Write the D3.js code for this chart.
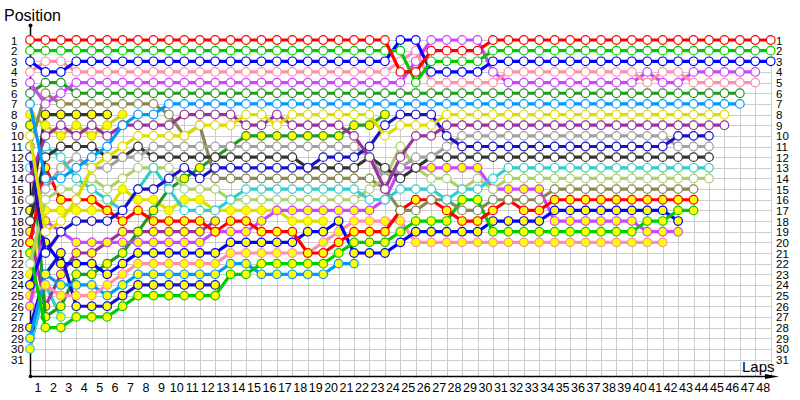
<!DOCTYPE html>
<html><head><meta charset="utf-8">
<script src="https://cdn.jsdelivr.net/npm/d3@7/dist/d3.min.js"></script>
<style>body{margin:0;background:#fff}svg{display:block}</style>
</head><body><svg id="c" width="800" height="400"></svg>
<script>
// ---------- data ----------
const lapTicks = d3.range(1, 49);
const positionTicks = d3.range(1, 32);

const red      = [1,1,1,1,1,1,1,1,1,1, 1,1,1,1,1,1,1,1,1,1, 1,1,1,1,4,4,2,2,2,2, 1,1,1,1,1,1,1,1,1,1, 1,1,1,1,1,1,1,1,1];
const green    = [2,2,2,2,2,2,2,2,2,2, 2,2,2,2,2,2,2,2,2,2, 2,2,2,2,2,5,3,3,3,3, 2,2,2,2,2,2,2,2,2,2, 2,2,2,2,2,2,2,2,2];
const blue     = [3,4,4,3,3,3,3,3,3,3, 3,3,3,3,3,3,3,3,3,3, 3,3,3,3,1,1,4,4,4,4, 3,3,3,3,3,3,3,3,3,3, 3,3,3,3,3,3,3,3,3];
const pink     = [4,3,3,4,4,4,4,4,4,4, 4,4,4,4,4,4,4,4,4,4, 4,4,4,4,3,2,5,5,5,5, 5,4,4,4,4,4,4,4,4,4, 5,4,4,5,5,5,5,5];
const magenta  = [5,7,6,5,5,5,5,5,5,5, 5,5,5,5,5,5,5,5,5,5, 5,5,5,5,5,3,1,1,1,1, 4,5,5,5,5,5,5,5,5,5, 4,5,5,4,4,4,4,4];
const dkgreen  = [6,5,5,6,6,6,6,6,6,6, 6,6,6,6,6,6,6,6,6,6, 6,6,6,6,6,6,6,6,6,6, 6,6,6,6,6,6,6,6,6,6, 6,6,6,6,6,6,6];
const skyblue  = [7,14,14,13,12,11,9,8,8,7, 7,7,7,7,7,7,7,7,7,7, 7,7,7,7,7,7,7,7,7,7, 7,7,7,7,7,7,7,7,7,7, 7,7,7,7,7,7,7];
const yellow   = [10,19,18,16,13,12,11,10,10,10, 10,9,9,9,8,8,9,8,8,8, 8,8,8,10,9,9,9,8,8,8, 8,8,8,8,8,8,8,8,8,8, 8,8,8,8,8,8];
const purple   = [14,10,9,10,9,10,9,9,9,9, 8,8,8,8,9,9,8,9,9,9, 9,10,12,15,12,10,10,9,9,9, 9,9,9,9,9,9,9,9,9,9, 9,9,9,9,9,9];
const dkblue   = [12,21,19,18,18,18,17,15,15,14, 13,14,13,13,13,13,13,13,13,12, 12,12,11,9,8,8,8,10,11,11, 11,11,11,11,11,11,11,11,11,11, 11,11,10,10,10];
const gray     = [16,15,13,12,13,13,12,12,11,11, 11,11,11,11,11,11,11,11,11,11, 11,11,12,14,13,12,12,11,10,10, 10,10,10,10,10,10,10,10,10,10, 10,10,11,11,11];
const dkgray   = [18,12,11,11,11,12,12,11,12,12, 12,12,12,12,12,12,12,12,13,13, 13,13,12,13,14,13,12,12,12,12, 12,12,12,12,12,12,12,12,12,12, 12,12,12,12,12];
const cyan     = [13,11,12,14,15,16,17,15,13,15, 17,17,17,16,15,15,15,15,15,15, 15,15,16,16,15,15,15,16,15,15, 14,13,13,13,13,13,13,13,13,13, 13,13,13,13,13];
const ltgreen  = [22,16,15,15,14,15,14,13,13,13, 15,15,15,16,16,16,16,16,16,16, 16,16,15,14,11,13,14,14,15,14, 15,14,14,14,14,14,14,14,14,14, 14,14,14,14,14];
const olive    = [11,6,7,7,7,7,7,7,7,8, 10,9,14,14,14,14,14,14,14,14, 14,14,14,15,17,17,16,16,17,17, 16,16,16,16,15,15,15,15,15,15, 15,15,15,15];

const redY     = [20,13,16,16,16,17,18,17,18,18, 18,18,19,18,18,19,19,19,21,21, 20,19,19,19,17,16,16,17,18,18, 17,16,17,17,16,16,16,16,16,16, 16,16,16,16];
const greenY   = [21,28,28,27,27,27,26,25,25,25, 25,25,25,23,23,22,22,22,22,22, 21,20,20,20,19,18,18,18,16,16, 19,19,19,19,19,19,19,19,19,19, 18,18,17,17];
const blueY    = [24,20,22,22,22,23,22,21,21,21, 21,21,21,20,20,20,20,20,19,19, 18,21,21,21,20,19,19,19,19,19, 18,18,18,18,17,17,17,17,17,17, 17,17,18];
const magentaY = [26,18,19,20,20,20,20,20,20,20, 20,20,19,19,19,18,17,17,17,17, 17,17,17,16,13,13,13,13,13,13, 15,15,15,15,18,18,18,18,18,18, 19,19,19];
const pinkY    = [25,24,25,25,25,24,23,22,22,22, 22,22,22,21,21,21,21,21,21,20, 19,18,18,18,18,20,20,20,20,20, 20,20,20,20,20,20,20,20,20,20, 20,20];
const skyblueY = [29,23,24,24,24,25,24,23,23,23, 23,23,23,22,22,23,23,23,23,23, 22,22];
const dkblueY  = [28,23,21,26,26,26,25,24,24,24, 24,24,24];
const dkgreenY = [9,27,26,23,23,22,21,19,17,15, 14,13,12,11,10,10,10,10,10,10, 10,9,9,8];
const purpleY  = [19,26,23,21,21,20,19,19,19,19, 19,19,18];
const yellowY  = [23,17,17,17,17,17,15,16,16,17, 16,16,17,17,17,17,17,18,18,18];
const yellowY2 = [8,9,10,9,10,9,8];
const dkgrayY  = [17,8,8,8,8,8];
const cyanY    = [30,24,27];

const seriesValues = [red, green, blue, pink, magenta, dkgreen, skyblue, yellow, purple, dkblue, gray, dkgray, cyan, ltgreen, olive,
                      redY, greenY, blueY, magentaY, pinkY, skyblueY, dkblueY, dkgreenY, purpleY, yellowY, yellowY2, dkgrayY, cyanY];
const seriesColors = ["#ff0000","#00cc00","#0000ff","#ff8fab","#cc44ff","#229922","#0099ff","#dddd00","#993399","#1a10c8","#a0a0a0","#333333","#33cccc","#aad070","#888850",
                      "#ff0000","#00cc00","#0000ff","#cc44ff","#ff8fab","#0099ff","#1a10c8","#229922","#993399","#dddd00","#cccc22","#333333","#33cccc"];
const seriesFills  = ["#ffffff","#ffffff","#ffffff","#ffffff","#ffffff","#ffffff","#ffffff","#ffffff","#ffffff","#ffffff","#ffffff","#ffffff","#ffffff","#ffffff","#ffffff",
                      "#ffff00","#ffff00","#ffff00","#ffff00","#ffff00","#ffff00","#ffff00","#ffff00","#ffff00","#ffff00","#ffff00","#ffff00","#ffff00"];

// ---------- drawing ----------
const svg = d3.select("#c");
const x = d3.scaleLinear().domain([0, 48]).range([30, 770.7]);
const y = d3.scaleLinear().domain([1, 31]).range([40, 359.5]);
const axisY = 376;
const font = "'Liberation Sans', Arial, sans-serif";

// grid
const grid = svg.append("g").attr("stroke", "#cccccc").attr("stroke-width", 1).attr("shape-rendering", "crispEdges");
grid.selectAll("line.h").data(d3.range(1, 33)).join("line")
  .attr("x1", x(0)).attr("x2", x(48)).attr("y1", d => Math.round(y(d)) + 0.5).attr("y2", d => Math.round(y(d)) + 0.5);
grid.selectAll("line.v").data(d3.range(0, 49)).join("line")
  .attr("y1", y(1)).attr("y2", axisY).attr("x1", d => Math.round(x(d)) + 0.5).attr("x2", d => Math.round(x(d)) + 0.5);

// axes lines
svg.append("line").attr("x1", 30.5).attr("x2", 30.5).attr("y1", 25).attr("y2", axisY).attr("stroke", "#000").attr("stroke-width", 1.5);
svg.append("line").attr("x1", 30).attr("x2", 772).attr("y1", axisY + 0.5).attr("y2", axisY + 0.5).attr("stroke", "#000").attr("stroke-width", 1.5);
svg.append("circle").attr("cx", 30.5).attr("cy", 25.5).attr("r", 2).attr("fill", "#000");
svg.append("circle").attr("cx", 30.5).attr("cy", axisY + 0.5).attr("r", 1.8).attr("fill", "#000");
svg.append("path").attr("d", `M765,${axisY - 2} L779,${axisY + 0.5} L765,${axisY + 3} Z`).attr("fill", "#000");

// tick labels via d3 axes
const xAxis = svg.append("g").attr("transform", `translate(0,${axisY})`)
  .call(d3.axisBottom(x).tickValues(lapTicks).tickSize(0).tickPadding(0).tickFormat(d3.format("d")));
xAxis.select(".domain").remove();
xAxis.selectAll("text").attr("x", -8).attr("y", 16).attr("dy", 0).attr("font-size", 12.5).attr("font-family", font).attr("fill", "#000");

const yAxisL = svg.append("g")
  .call(d3.axisLeft(y).tickValues(positionTicks).tickSize(0).tickFormat(d3.format("d")));
yAxisL.select(".domain").remove();
yAxisL.selectAll("text").attr("x", 11).attr("text-anchor", "start").attr("dy", "0.35em").attr("font-size", 11.5).attr("font-family", font).attr("fill", "#000");

const yAxisR = svg.append("g")
  .call(d3.axisRight(y).tickValues(positionTicks).tickSize(0).tickFormat(d3.format("d")));
yAxisR.select(".domain").remove();
yAxisR.selectAll("text").attr("x", 776).attr("text-anchor", "start").attr("dy", "0.35em").attr("font-size", 11.5).attr("font-family", font).attr("fill", "#000");

svg.append("text").attr("x", 4).attr("y", 21).text("Position").attr("font-size", 16).attr("font-family", font).attr("fill", "#000");
svg.append("text").attr("x", 742).attr("y", 372).text("Laps").attr("font-size", 15).attr("font-family", font).attr("fill", "#000");

// series
const line = d3.line().x((d, i) => x(i)).y(d => y(d));
const series = seriesValues.map((v, k) => ({v, color: seriesColors[k], fill: seriesFills[k]}));
const order = d3.range(series.length).reverse();
order.forEach(k => {
  const s = series[k];
  const g = svg.append("g");
  g.append("path").attr("d", line(s.v)).attr("fill", "none").attr("stroke", s.color)
    .attr("stroke-width", 3.2).attr("stroke-linejoin", "round");
  g.selectAll("circle").data(s.v).join("circle")
    .attr("cx", (d, i) => x(i)).attr("cy", d => y(d)).attr("r", 4.3)
    .attr("fill", s.fill).attr("stroke", s.color).attr("stroke-width", 1.2);
});
</script></body></html>
